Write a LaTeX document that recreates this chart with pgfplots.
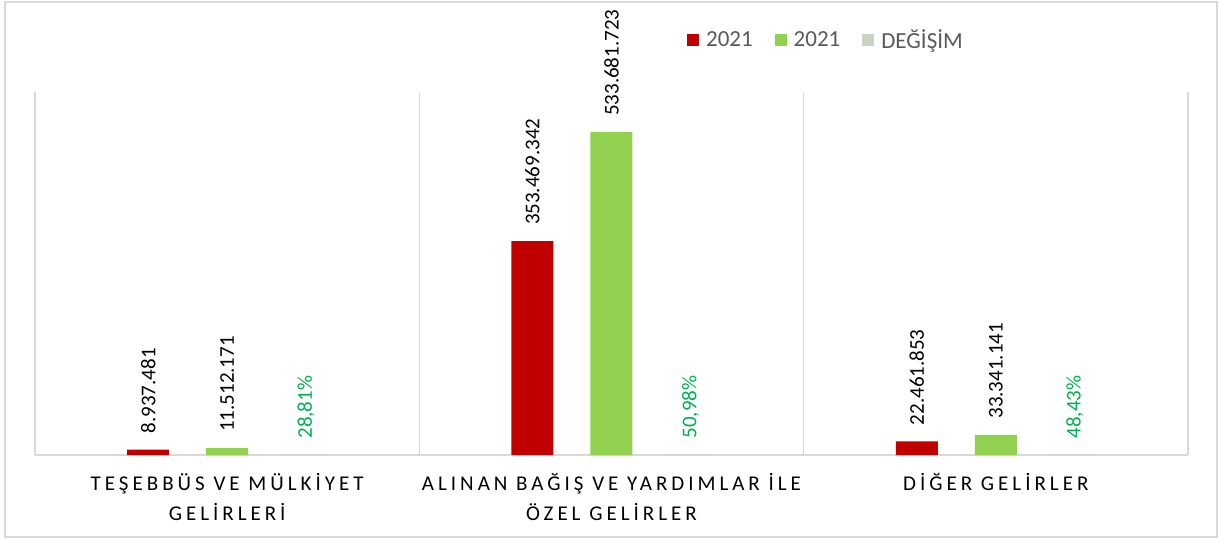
\documentclass[border=0pt]{standalone}
\usepackage{pgfplots}
\pgfplotsset{compat=1.18}
\usepackage{fontspec}
\setmainfont{Carlito}
\definecolor{cred}{HTML}{C00000}
\definecolor{cgreen}{HTML}{92D050}
\definecolor{cgray}{HTML}{C9D3C0}
\definecolor{cpct}{HTML}{00B050}
\definecolor{cline}{HTML}{D9D9D9}
\definecolor{ctext}{HTML}{595959}
\begin{document}
\begin{tikzpicture}
\begin{axis}[
  scale only axis, width=1153pt, height=363pt,
  ybar=37pt, bar width=42pt,
  xmin=-0.5, xmax=2.5, ymin=0, ymax=600,
  xtick={0,1,2},
  xticklabels={{TEŞEBBÜS VE MÜLKİYET\\GELİRLERİ},{ALINAN BAĞIŞ VE YARDIMLAR İLE\\ÖZEL GELİRLER},{DİĞER GELİRLER}},
  xticklabel style={align=center, font=\fontsize{21}{30}\selectfont\addfontfeatures{LetterSpace=19}, text=black, yshift=-15pt},
  major tick length=0pt,
  extra x ticks={-0.5,0.5,1.5,2.5},
  extra x tick labels={},
  extra x tick style={grid=major, major grid style={draw=cline, line width=1.5pt}},
  axis x line=bottom, axis y line=none,
  axis line style={-, draw=cline, line width=1.5pt},
  clip=false,
  point meta=explicit symbolic,
  nodes near coords={\hspace*{16pt}\pgfplotspointmeta},
  every node near coord/.append style={rotate=90, anchor=west, inner sep=0pt, font=\fontsize{21}{21}\selectfont, text=black},
  legend style={at={(0.686,1.143)}, anchor=center, draw=none, font=\fontsize{23}{23}\selectfont, text=ctext,
    /tikz/every even column/.append style={column sep=20pt},
    /tikz/every odd column/.append style={column sep=5pt}},
  legend columns=3,
  legend image code/.code={\fill[#1] (0pt,-6pt) rectangle (12pt,6pt);},
]
\addplot[fill=cred, draw=none] table[x=x, y=y, meta=l] {
x y l
0 8.937481 8.937.481
1 353.469342 353.469.342
2 22.461853 22.461.853
};
\addplot[fill=cgreen, draw=none] table[x=x, y=y, meta=l] {
x y l
0 11.512171 11.512.171
1 533.681723 533.681.723
2 33.341141 33.341.141
};
\addplot[fill=cgray, draw=none, every node near coord/.append style={text=cpct}] table[x=x, y=y, meta=l] {
x y l
0 0.2881 28,81\%
1 0.5098 50,98\%
2 0.4843 48,43\%
};
\legend{2021,2021,DEĞİŞİM}
\end{axis}
\draw[cline, line width=1.5pt] ([shift={(-30pt,-82pt)}]current axis.south west) rectangle ([shift={(1182pt,453pt)}]current axis.south west);
\path ([shift={(-35pt,-84pt)}]current axis.south west) rectangle ++(1219pt,539pt);
\end{tikzpicture}
\end{document}
